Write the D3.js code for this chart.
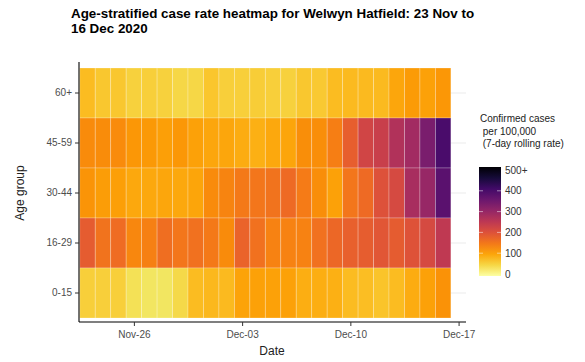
<!DOCTYPE html>
<html>
<head>
<meta charset="utf-8">
<script src="https://cdn.jsdelivr.net/npm/d3@7"></script>
<style>
body { margin: 0; background: #fff; }
text { font-family: "Liberation Sans", Arial, sans-serif; }
</style>
</head>
<body>
<div id="chart"></div>
<script>
var width = 585, height = 362;

// data (7-day rolling rate per 100,000)
var dates = ["2020-11-23","2020-11-24","2020-11-25","2020-11-26","2020-11-27","2020-11-28",
	"2020-11-29","2020-11-30","2020-12-01","2020-12-02","2020-12-03","2020-12-04",
	"2020-12-05","2020-12-06","2020-12-07","2020-12-08","2020-12-09","2020-12-10",
	"2020-12-11","2020-12-12","2020-12-13","2020-12-14","2020-12-15","2020-12-16"];
var ageGroups = ["60+", "45-59", "30-44", "16-29", "0-15"];
var rate60 = [78,65,65,55,58,55,50,50,68,58,58,60, 58,55,65,63,78,80,80,80,98,110,105,115];
var rate45 = [128,126,128,115,112,106,115,105,98,98,92,88, 96,100,125,125,142,180,220,232,262,282,332,390];
var rate30 = [118,108,106,97,97,98,96,100,128,135,148,152, 155,165,145,125,105,152,165,200,212,275,295,370];
var rate16 = [185,155,163,132,140,162,152,157,148,128,175,157, 138,138,138,158,168,178,183,192,185,198,212,245];
var rate0 = [57,57,58,40,35,35,47,78,82,80,102,104, 104,104,90,90,88,78,76,70,78,92,104,120];
var xTicks = ["2020-11-26", "2020-12-03", "2020-12-10", "2020-12-17"];
var legendTicks = [0, 100, 200, 300, 400, 500];

var parse = d3.timeParse("%Y-%m-%d");
var rows = [rate60, rate45, rate30, rate16, rate0];
var cells = [];
rows.forEach(function(r, i) {
	r.forEach(function(v, j) {
		cells.push({ age: ageGroups[i], date: parse(dates[j]), value: v });
	});
});

var svg = d3.select("#chart").append("svg")
	.attr("width", width).attr("height", height);

var x = d3.scaleTime()
	.domain([new Date(2020, 10, 22, 10, 48), new Date(2020, 11, 17, 11, 30)])
	.range([79, 466]);
var y = d3.scaleBand().domain(ageGroups).range([68, 318]);
var color = function(v) { return d3.interpolateInferno(1 - Math.min(v, 500) / 500); };

//  gridlines
svg.append("g").selectAll("line").data(ageGroups).enter().append("line")
	.attr("x1", 79).attr("x2", 466)
	.attr("y1", function(d) { return y(d) + y.bandwidth() / 2; })
	.attr("y2", function(d) { return y(d) + y.bandwidth() / 2; })
	.attr("stroke", "#ebebeb").attr("stroke-width", 1);

//  tiles
svg.append("g").selectAll("rect").data(cells).enter().append("rect")
	.attr("x", function(d) { return x(d3.timeHour.offset(d.date, -12)); })
	.attr("width", function(d) { return x(d3.timeHour.offset(d.date, 12)) - x(d3.timeHour.offset(d.date, -12)); })
	.attr("y", function(d) { return y(d.age); })
	.attr("height", y.bandwidth())
	.attr("fill", function(d) { return color(d.value); })
	.attr("stroke", "rgba(255,255,255,0.3)").attr("stroke-width", 0.8);

//  axes
var xAxis = svg.append("g").attr("transform", "translate(0,322)")
	.call(d3.axisBottom(x).tickValues(xTicks.map(parse)).tickSize(4)
		.tickFormat(d3.timeFormat("%b-%d")));
xAxis.select(".domain").attr("d", "M79,0H466").attr("stroke", "#000").attr("stroke-width", 1.1);
xAxis.selectAll(".tick line").attr("stroke", "#333");
xAxis.selectAll(".tick text").attr("fill", "#4d4d4d").attr("font-size", 10)
	.attr("font-family", "Liberation Sans, Arial, sans-serif").attr("dy", "0.9em");

var yAxis = svg.append("g").attr("transform", "translate(79,0)")
	.call(d3.axisLeft(y).tickSize(4).tickPadding(3));
yAxis.select(".domain").attr("d", "M0,62V322").attr("stroke", "#000").attr("stroke-width", 1.1);
yAxis.selectAll(".tick line").attr("stroke", "#333");
yAxis.selectAll(".tick text").attr("fill", "#4d4d4d").attr("font-size", 10)
	.attr("font-family", "Liberation Sans, Arial, sans-serif");

//  titles
svg.append("text").attr("x", 71).attr("y", 17.5).attr("font-weight", "bold").attr("font-size", 13.4)
	.text("Age-stratified case rate heatmap for Welwyn Hatfield: 23 Nov to");
svg.append("text").attr("x", 71).attr("y", 33).attr("font-weight", "bold").attr("font-size", 13.4)
	.text("16 Dec 2020");
svg.append("text").attr("x", 272).attr("y", 355).attr("text-anchor", "middle")
	.attr("font-size", 12).attr("fill", "#222").text("Date");
svg.append("text").attr("transform", "translate(24,193)rotate(-90)").attr("text-anchor", "middle")
	.attr("font-size", 12).attr("fill", "#222").text("Age group");

//  legend
var lg = svg.append("g");
["Confirmed cases", " per 100,000", " (7-day rolling rate)"].forEach(function(t, i) {
	lg.append("text").attr("x", 480).attr("y", 122 + i * 12.5).attr("font-size", 10)
		.attr("fill", "#222").attr("xml:space", "preserve").text(t);
});

var ly = d3.scaleLinear().domain([0, 500]).range([274, 170]);
var grad = svg.append("defs").append("linearGradient").attr("id", "cbar")
	.attr("x1", 0).attr("y1", 1).attr("x2", 0).attr("y2", 0);
d3.range(0, 1.01, 0.1).forEach(function(t) {
	grad.append("stop").attr("offset", t).attr("stop-color", color(t * 500));
});
lg.append("rect").attr("x", 479).attr("y", ly(500) - 3).attr("width", 22)
	.attr("height", ly(0) - ly(500) + 5).attr("fill", "url(#cbar)");
lg.selectAll("line.tk").data(legendTicks.slice(1, 5)).enter().append("g")
	.each(function(d) {
		var g = d3.select(this);
		g.append("line").attr("x1", 479).attr("x2", 483).attr("y1", ly(d)).attr("y2", ly(d))
			.attr("stroke", "rgba(255,255,255,0.5)");
		g.append("line").attr("x1", 497).attr("x2", 501).attr("y1", ly(d)).attr("y2", ly(d))
			.attr("stroke", "rgba(255,255,255,0.5)");
	});
lg.selectAll("text.lab").data(legendTicks).enter().append("text")
	.attr("x", 505).attr("y", function(d) { return ly(d); }).attr("dy", "0.35em")
	.attr("font-size", 10).attr("fill", "#333")
	.text(function(d) { return d === 500 ? "500+" : d; });
</script>
</body>
</html>
